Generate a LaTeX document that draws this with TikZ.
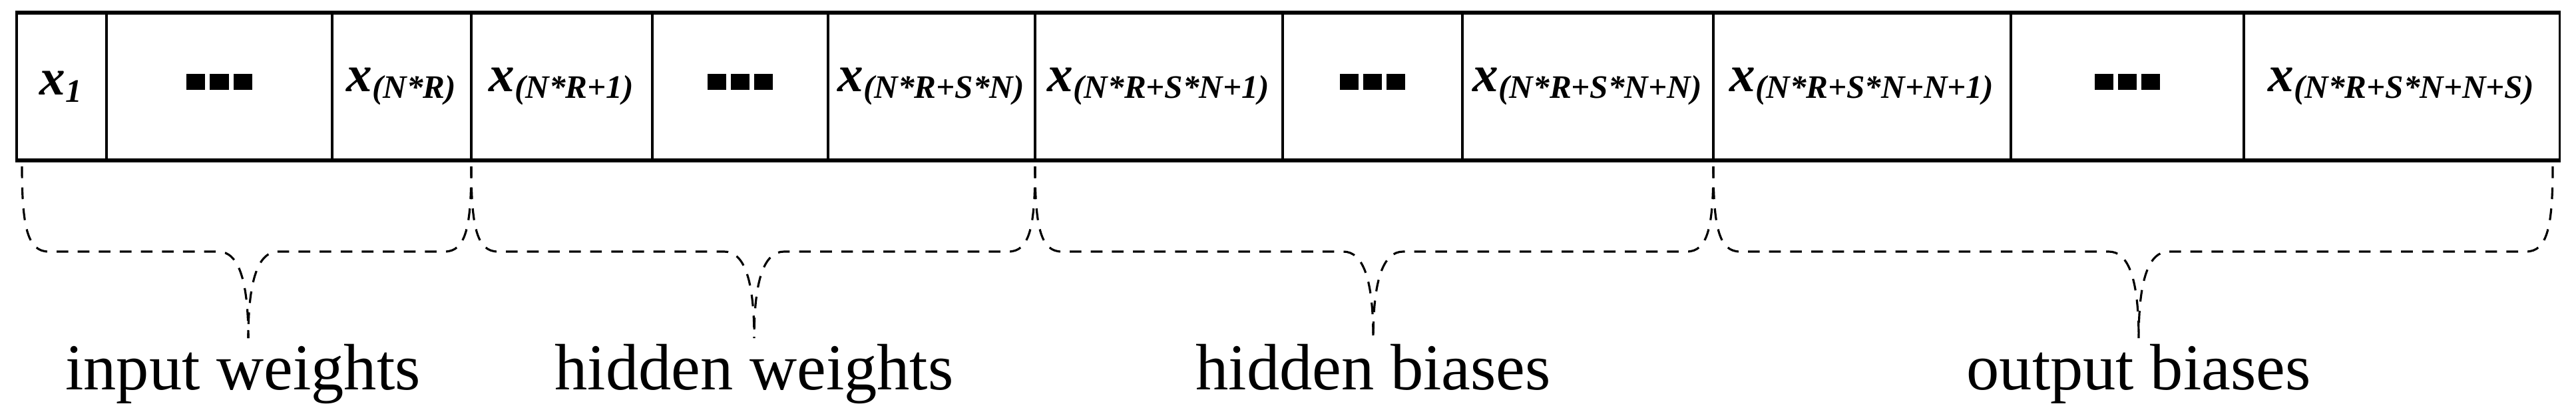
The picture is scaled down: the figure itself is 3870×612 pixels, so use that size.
\documentclass[tikz,border=0pt]{standalone}
\usepackage{fontspec}
\setmainfont{Liberation Serif}
\tikzstyle{cell}=[rectangle, draw, line width=0.9pt, minimum height=2.2cm, inner sep=0pt, font=\fontsize{22}{24}\selectfont\bfseries\itshape]
\tikzstyle{label}=[font=\fontsize{28}{30}\selectfont, anchor=base]
\tikzstyle{brace}=[dashed, line width=0.9pt, dash pattern=on 5pt off 4pt]
\newcommand{\xv}[1]{x\textsubscript{\fontsize{14}{15}\selectfont(#1)}}
\newcommand{\dts}{\raisebox{4pt}{\rule{8pt}{7pt}\hspace{2pt}\rule{8pt}{7pt}\hspace{2pt}\rule{8pt}{7pt}}}
\newcommand{\brc}[3]{%
  \draw[brace] (#1,250) .. controls (#1,340) and (#1+8,378) .. (#1+40,378) -- (#2-45,378)
    .. controls (#2-15,378) and (#2,420) .. (#2,508);
  \draw[brace] (#3,250) .. controls (#3,340) and (#3-8,378) .. (#3-40,378) -- (#2+45,378)
    .. controls (#2+15,378) and (#2,420) .. (#2,508);}
\begin{document}
\begin{tikzpicture}[x=0.01cm,y=-0.01cm]
  \useasboundingbox (0,0) rectangle (3870,612);
  % cells of the vector
  \node (c1) [cell, minimum width=1.35cm] at (92.5,130) {x\textsubscript{\fontsize{14}{15}\selectfont 1}};
  \node (c2) [cell, minimum width=3.39cm] at (329.5,130) {\dts};
  \node (c3) [cell, minimum width=2.09cm] at (603.5,130) {\xv{N*R}};
  \node (c4) [cell, minimum width=2.72cm] at (844,130) {\xv{N*R+1}};
  \node (c5) [cell, minimum width=2.64cm] at (1112,130) {\dts};
  \node (c6) [cell, minimum width=3.11cm] at (1399.5,130) {\xv{N*R+S*N}};
  \node (c7) [cell, minimum width=3.72cm] at (1741,130) {\xv{N*R+S*N+1}};
  \node (c8) [cell, minimum width=2.70cm] at (2062,130) {\dts};
  \node (c9) [cell, minimum width=3.77cm] at (2385.5,130) {\xv{N*R+S*N+N}};
  \node (c10) [cell, minimum width=4.47cm] at (2797.5,130) {\xv{N*R+S*N+N+1}};
  \node (c11) [cell, minimum width=3.50cm] at (3196,130) {\dts};
  \node (c12) [cell, minimum width=4.74cm] at (3608,130) {\xv{N*R+S*N+N+S}};
  \draw[line width=1.4pt] (c1.north west) -- (c12.north east);
  \draw[line width=1.4pt] (c1.south west) -- (c12.south east);
  % braces
  \brc{33}{373}{708}
  \brc{708}{1133}{1555}
  \brc{1555}{2063}{2574}
  \brc{2574}{3213}{3835}
  % group labels
  \node (l1) [label] at (365,585) {input weights};
  \node (l2) [label] at (1133,585) {hidden weights};
  \node (l3) [label] at (2063,585) {hidden biases};
  \node (l4) [label] at (3213,585) {output biases};
\end{tikzpicture}
\end{document}
